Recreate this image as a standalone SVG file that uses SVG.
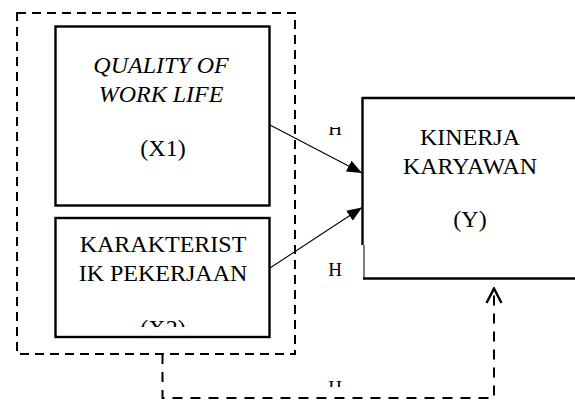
<svg xmlns="http://www.w3.org/2000/svg" width="575" height="404" viewBox="0 0 575 404">
<style>
.bg{fill:#fff}
.box{fill:#fff;stroke:#000;stroke-width:2.4}
.edge{fill:none;stroke:#000;stroke-width:2.4}
.dash{fill:none;stroke:#000;stroke-width:2;stroke-dasharray:9 6}
.dash2{fill:none;stroke:#000;stroke-width:2;stroke-dasharray:10 8}
.arr{fill:none;stroke:#000;stroke-width:1.1}
text{font-family:'Liberation Serif','DejaVu Serif',serif;fill:#000;text-anchor:middle}
.t{font-size:24px}
.i{font-style:italic}
.h{font-size:19px}
</style>
<defs>
<marker id="tri" viewBox="0 0 15 12" refX="15" refY="6" markerWidth="15" markerHeight="12" markerUnits="userSpaceOnUse" orient="auto">
<path d="M0,0 L15,6 L0,12 Z" fill="#000"/>
</marker>
<marker id="open" viewBox="0 0 17 18" refX="15.5" refY="9" markerWidth="17" markerHeight="18" markerUnits="userSpaceOnUse" orient="auto">
<path d="M1,1.5 L15.5,9 L1,16.5" fill="none" stroke="#000" stroke-width="2.4"/>
</marker>
<clipPath id="cx2"><rect x="56" y="219" width="213" height="108"/></clipPath>
<clipPath id="ch1"><rect x="320" y="127" width="30" height="12"/></clipPath>
<clipPath id="ch3"><rect x="320" y="375" width="30" height="12"/></clipPath>
</defs>
<rect class="bg" x="0" y="0" width="575" height="404"/>
<g id="group-x">
<rect class="dash" x="17" y="13" width="278" height="341"/>
</g>
<g id="x1">
<rect class="box" x="55.5" y="26.5" width="214" height="179"/>
<text class="t i" x="161" y="73">QUALITY OF</text>
<text class="t i" x="161" y="102">WORK LIFE</text>
<text class="t" x="163" y="156">(X1)</text>
</g>
<g id="x2">
<rect class="box" x="55.5" y="218" width="214" height="119"/>
<g clip-path="url(#cx2)">
<text class="t" x="163" y="252">KARAKTERIST</text>
<text class="t" x="163" y="281">IK PEKERJAAN</text>
<text class="t" x="163" y="336">(X2)</text>
</g>
</g>
<g id="y">
<rect class="bg" x="363" y="98" width="215" height="180"/>
<path class="edge" d="M362,98 H580"/>
<path class="edge" d="M362.5,97 V245"/>
<path fill="none" stroke="#000" stroke-width="1" d="M364,245 V278"/>
<path class="edge" d="M363,278.5 H580"/>
<text class="t" x="470" y="145">KINERJA</text>
<text class="t" x="470" y="174">KARYAWAN</text>
<text class="t" x="470" y="227">(Y)</text>
</g>
<g id="connectors">
<line class="arr" x1="270" y1="125" x2="362" y2="173" marker-end="url(#tri)"/>
<line class="arr" x1="270" y1="268" x2="362" y2="207.5" marker-end="url(#tri)"/>
<polyline class="dash2" points="162.5,354 162.5,398 494,398 494,288.5" marker-end="url(#open)"/>
<text class="h" x="335" y="135" clip-path="url(#ch1)">H</text>
<text class="h" x="335" y="276">H</text>
<text class="h" x="335" y="394" clip-path="url(#ch3)">H</text>
</g>
</svg>
